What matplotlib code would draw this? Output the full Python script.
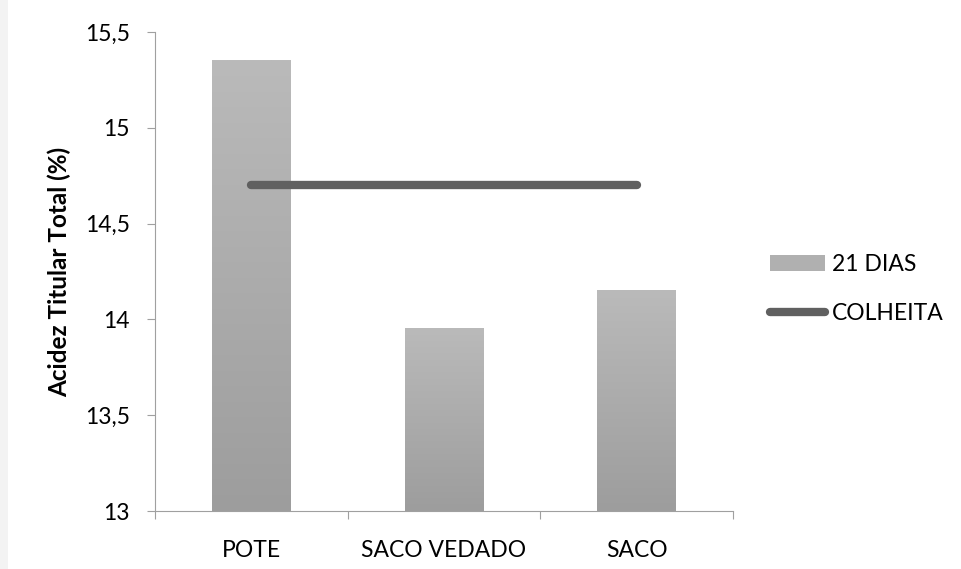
import numpy as np
import matplotlib
matplotlib.use('Agg')
import matplotlib.pyplot as plt
from matplotlib.patches import Patch, Rectangle
from matplotlib.lines import Line2D

plt.rcParams['font.family'] = ['Lato', 'DejaVu Sans']

# dados
categorias = ['POTE', 'SACO VEDADO', 'SACO']
dias21 = [15.35, 13.95, 14.15]
colheita = [14.7, 14.7, 14.7]
yticks = [13, 13.5, 14, 14.5, 15, 15.5]
ytick_labels = ['13', '13,5', '14', '14,5', '15', '15,5']

fig = plt.figure(figsize=(9.61, 5.69), dpi=100)
# faixa cinza clara na borda esquerda
fig.patches.append(Rectangle((0, 0), 8/961, 1, transform=fig.transFigure,
                             facecolor='#f3f3f3', edgecolor='none', zorder=0))
ax = fig.add_axes([155/961, 1-511/569, (733-155)/961, (511-32)/569])

ymin, ymax = 13, 15.5
larg = 0.41
x = np.arange(len(categorias))

# barras com gradiente vertical
grad = np.linspace(0, 1, 256).reshape(-1, 1)
cmap = matplotlib.colors.LinearSegmentedColormap.from_list('g', ['#9d9d9d', '#bababa'])
for xi, v in zip(x, dias21):
    ax.imshow(grad, extent=(xi-larg/2, xi+larg/2, ymin, v), origin='lower',
              cmap=cmap, aspect='auto', zorder=2)

ax.plot(x, colheita, color='#606060', lw=6, solid_capstyle='round', zorder=3)

fs = 16.5
ax.set_xlim(-0.5, 2.5)
ax.set_ylim(ymin, ymax)
ax.set_yticks(yticks)
ax.set_yticklabels(ytick_labels)
ax.set_xticks([-0.5, 0.5, 1.5, 2.5])
ax.set_xticklabels([])
ax.set_xticks(x, minor=True)
ax.set_xticklabels(categorias, minor=True)
ax.tick_params(axis='x', which='minor', length=0, pad=21, labelsize=fs)
ax.tick_params(axis='x', which='major', length=6, color='#a0a0a0', direction='out')
ax.tick_params(axis='y', length=6, color='#a0a0a0', labelsize=fs, pad=12)
for s in ['top', 'right']:
    ax.spines[s].set_visible(False)
for s in ['left', 'bottom']:
    ax.spines[s].set_color('#a0a0a0')
ax.set_ylabel('Acidez Titular Total (%)', fontsize=17.5, fontweight='bold')
ax.yaxis.set_label_coords((71-155)/578, 0.5)

handles = [Patch(facecolor='#b0b0b0', edgecolor='none'),
           Line2D([0], [0], color='#606060', lw=6, solid_capstyle='round')]
fig.legend(handles, ['21 DIAS', 'COLHEITA'], loc='center left',
           bbox_to_anchor=(770/961, 1-289/569), frameon=False, fontsize=fs,
           labelspacing=1.25, handlelength=2.4, handletextpad=0.3,
           borderpad=0, borderaxespad=0)

fig.savefig('out.png', dpi=100)
